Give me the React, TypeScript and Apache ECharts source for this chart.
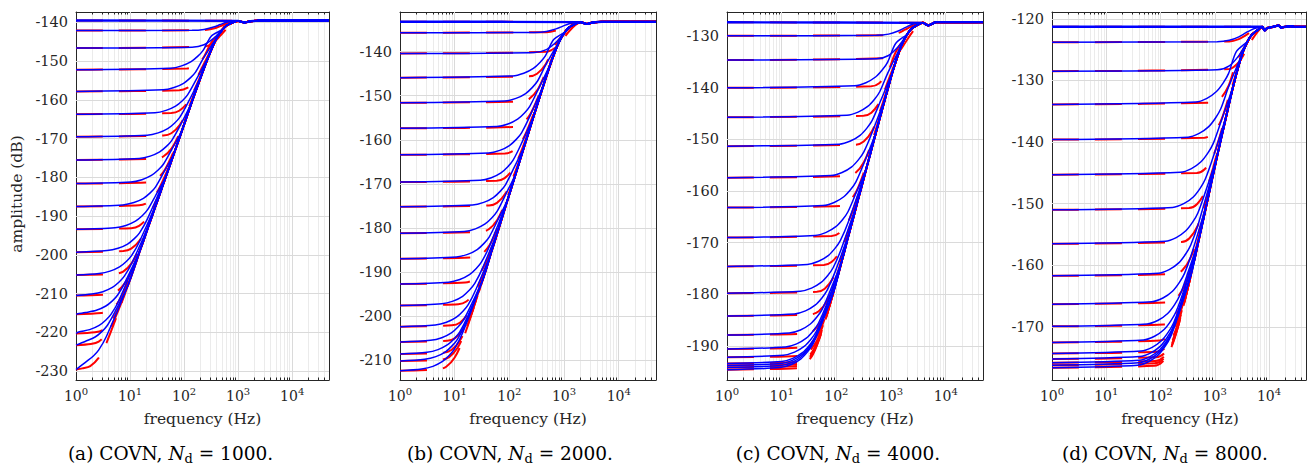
import React, { useEffect, useRef } from "react";
import * as echarts from "echarts";

const SERIF = "'DejaVu Serif', 'Liberation Serif', serif";
const AXIS_COLOR = "#262626";
const F_MIN = 1;
const F_MAX = 48000;

// ---------- (a) N_d = 1000 ----------
const plateauA = -139.5;
const yRangeA = [-232.3, -137.3];
const yTicksA = [-230, -220, -210, -200, -190, -180, -170, -160, -150, -140];
const floorsA = [-139.5, -142.1, -146.6, -152.2, -157.8, -163.7, -169.5, -175.5, -181.6, -187.5, -193.4, -199.3, -205.2, -210.5, -215.3, -220.3, -223.3, -229.6];
const crossA = [468, 403, 311, 225, 163, 116, 83, 58.9, 41.4, 29.5, 21, 15, 10.65, 7.85, 5.95, 4.47, 3.76, 2.62];
const riseA = [[2.34, -231.5], [4.68, -219.5], [9.36, -207.5], [16.4, -197.7], [23.4, -191.5], [32.8, -185.7], [46.8, -179.5], [65.5, -173.7], [93.6, -167.5], [140, -160.4], [211, -153.5], [281, -148.9], [351, -145.7], [421, -143.5], [515, -141.8], [608, -140.8], [796, -140.0]];
const tailA = [[1000, -139.6], [1300, -140.0], [1700, -139.7], [2500, -139.5], [48000, -139.5]];

// ---------- (b) N_d = 2000 ----------
const plateauB = -133.2;
const yRangeB = [-214.5, -131.0];
const yTicksB = [-210, -200, -190, -180, -170, -160, -150, -140];
const floorsB = [-133.2, -135.7, -140.4, -145.9, -151.6, -157.4, -163.4, -169.6, -175.2, -181.2, -187.0, -192.7, -197.6, -202.4, -205.9, -208.6, -210.2, -212.4];
const crossB = [951, 824, 628, 458, 330, 236, 167, 117, 84.8, 60, 43, 31, 23.3, 17.7, 14.5, 12.4, 11.3, 10];
const riseB = [[4.76, -225.2], [9.51, -213.2], [19.0, -201.2], [33.3, -191.4], [47.6, -185.2], [66.6, -179.4], [95.1, -173.2], [133, -167.4], [190, -161.2], [285, -154.2], [428, -147.3], [571, -142.6], [713, -139.4], [856, -137.2], [1046, -135.5], [1236, -134.5], [1617, -133.7]];
const tailB = [[2000, -133.3], [2600, -133.7], [3300, -133.4], [5000, -133.2], [48000, -133.2]];

// ---------- (c) N_d = 4000 ----------
const plateauC = -127.3;
const yRangeC = [-196.6, -125.3];
const yTicksC = [-190, -180, -170, -160, -150, -140, -130];
const floorsC = [-127.3, -129.9, -134.6, -140.0, -145.7, -151.3, -157.4, -163.2, -169.0, -174.6, -179.8, -184.2, -187.9, -190.6, -192.2, -193.4, -193.8, -194.2, -194.6];
const crossC = [1800, 1550, 1183, 867, 624, 452, 318, 228, 163, 118, 87.7, 68, 55, 47, 42.9, 40, 39.1, 38.2, 37.4];
const riseC = [[9, -219.3], [18, -207.3], [36, -195.3], [63, -185.5], [90, -179.3], [126, -173.5], [180, -167.3], [252, -161.5], [360, -155.3], [540, -148.3], [810, -141.4], [1080, -136.7], [1350, -133.5], [1620, -131.3], [1980, -129.6], [2340, -128.6], [3060, -127.8]];
const tailC = [[3800, -127.4], [4800, -127.9], [5600, -127.6], [6500, -127.3], [48000, -127.3]];

// ---------- (d) N_d = 8000 ----------
const plateauD = -121.3;
const yRangeD = [-178.6, -118.9];
const yTicksD = [-170, -160, -150, -140, -130, -120];
const floorsD = [-121.3, -123.8, -128.5, -133.9, -139.6, -145.3, -151.0, -156.5, -161.7, -166.3, -169.9, -172.5, -174.3, -175.2, -175.8, -176.2, -176.6];
const crossD = [3700, 3200, 2445, 1791, 1290, 929, 670, 488, 361, 277, 226, 194, 175, 166, 161, 157, 153];
const riseD = [[37, -201.3], [74, -189.3], [111, -182.2], [130, -179.5], [185, -173.3], [259, -167.5], [370, -161.3], [518, -155.5], [740, -149.3], [1110, -142.2], [1665, -135.4], [2220, -130.7], [2775, -127.5], [3330, -125.3], [4070, -123.6], [4810, -122.6], [6290, -121.8]];
const tailD = [[7500, -121.3], [8300, -121.9], [9300, -121.5], [12000, -121.3], [15000, -121.1], [16500, -121.4], [25000, -121.2], [30000, -121.3], [48000, -121.3]];

// knee shapes: [f / crossing frequency, dB above floor]
const kneeBlue = [[0.25, 0.4], [0.4, 1.0], [0.6, 2.1], [0.8, 3.5], [1.0, 5.0], [1.4, 8.6]];
const kneeRed = [[0.5, 0.3], [0.7, 0.9], [1.0, 3.0], [1.4, 6.9]];
// curves just under the plateau: [f / corner frequency, fraction of the gap to the plateau closed]
const upperBlue = [[0.3, 0.03], [0.5, 0.12], [0.75, 0.35], [1.0, 0.6], [1.3, 0.82], [1.7, 0.95]];
const upperRed = [[0.5, 0.05], [0.75, 0.2], [1.0, 0.45], [1.3, 0.7], [1.7, 0.9]];
const UPPER_GAP_DB = 9;

const captionTags = ["(a)", "(b)", "(c)", "(d)"];
const captionNd = ["1000", "2000", "4000", "8000"];

const panels = [
  { plateau: plateauA, yRange: yRangeA, yTicks: yTicksA, floors: floorsA, cross: crossA, rise: riseA, tail: tailA, left: 76, width: 253, capX: 170.5 },
  { plateau: plateauB, yRange: yRangeB, yTicks: yTicksB, floors: floorsB, cross: crossB, rise: riseB, tail: tailB, left: 400, width: 256, capX: 510 },
  { plateau: plateauC, yRange: yRangeC, yTicks: yTicksC, floors: floorsC, cross: crossC, rise: riseC, tail: tailC, left: 727, width: 256, capX: 838 },
  { plateau: plateauD, yRange: yRangeD, yTicks: yTicksD, floors: floorsD, cross: crossD, rise: riseD, tail: tailD, left: 1052, width: 256, capX: 1165 },
];

const GRID_TOP = 12;
const GRID_H = 368;

function buildCurve(
  floor: number, cross: number, corner: number, plateau: number,
  knee: number[][], upper: number[][], joinFactor: number,
  rise: number[][], tail: number[][]
) {
  const pts: number[][] = [[F_MIN, floor]];
  const gap = plateau - floor;
  if (gap > 0 && gap < UPPER_GAP_DB) {
    for (const [r, frac] of upper) pts.push([corner * r, floor + frac * gap]);
  } else if (gap >= UPPER_GAP_DB) {
    for (const [r, h] of knee) {
      const f = cross * r;
      const v = floor + h;
      if (f <= 1.05) continue;
      if (v > plateau - 1) break;
      pts.push([f, v]);
    }
    let last = pts[pts.length - 1];
    for (const p of rise) {
      if (p[0] >= cross * joinFactor && p[0] > last[0] && p[1] > last[1]) {
        pts.push(p);
        last = p;
      }
    }
  }
  const lastF = pts[pts.length - 1][0];
  for (const p of tail) {
    if (p[0] > lastF) pts.push(p);
  }
  return pts;
}

export default function App() {
  const ref = useRef<HTMLDivElement>(null);
  useEffect(() => {
    document.body.style.margin = "0";
    if (!ref.current) return;
    const chart = echarts.init(ref.current, null, { renderer: "svg" });

    const grid: any[] = [];
    const xAxis: any[] = [];
    const yAxis: any[] = [];
    const series: any[] = [];
    const graphic: any[] = [];

    panels.forEach((p, i) => {
      grid.push({ left: p.left, top: GRID_TOP, width: p.width, height: GRID_H, containLabel: false });
      const [ymin, ymax] = p.yRange;
      const corner = p.cross[0];
      const axLine = { show: true, onZero: false, lineStyle: { color: AXIS_COLOR, width: 1 } };
      xAxis.push({
        type: "log", logBase: 10, gridIndex: i, min: F_MIN, max: F_MAX, position: "bottom",
        axisLine: axLine,
        axisTick: { show: true, inside: true, length: 4, lineStyle: { color: AXIS_COLOR } },
        axisLabel: {
          show: true, margin: 6,
          formatter: (v: number) => {
            const e = Math.log10(v);
            if (Math.abs(e - Math.round(e)) > 1e-6) return "";
            return `{b|10}{s|${Math.round(e)}}`;
          },
          rich: {
            b: { fontFamily: SERIF, fontSize: 14, color: AXIS_COLOR },
            s: { fontFamily: SERIF, fontSize: 10, color: AXIS_COLOR, padding: [0, 0, 10, 0] },
          },
        },
        splitLine: { show: false },
      });
      xAxis.push({
        type: "log", logBase: 10, gridIndex: i, min: F_MIN, max: F_MAX, position: "top",
        axisLine: axLine,
        axisTick: { show: true, inside: true, length: 4, lineStyle: { color: AXIS_COLOR } },
        axisLabel: { show: false },
        splitLine: { show: false },
      });
      yAxis.push({
        type: "value", gridIndex: i, min: ymin, max: ymax, position: "left",
        axisLine: axLine,
        axisTick: { show: true, inside: true, length: 4, customValues: p.yTicks, lineStyle: { color: AXIS_COLOR } },
        axisLabel: { show: true, customValues: p.yTicks, margin: 8, fontFamily: SERIF, fontSize: 14.5, color: AXIS_COLOR },
        splitLine: { show: false },
      });
      yAxis.push({
        type: "value", gridIndex: i, min: ymin, max: ymax, position: "right",
        axisLine: axLine,
        axisTick: { show: true, inside: true, length: 4, customValues: p.yTicks, lineStyle: { color: AXIS_COLOR } },
        axisLabel: { show: false },
        splitLine: { show: false },
      });

      // grid lines and minor ticks
      const mlData: any[] = [];
      const tl = (2.5 * (ymax - ymin)) / GRID_H;
      for (let n = 0; n <= 4; n++) {
        for (let k = 1; k <= 9; k++) {
          const f = k * Math.pow(10, n);
          if (f <= F_MIN || f >= F_MAX) continue;
          mlData.push({ xAxis: f, lineStyle: { color: k === 1 ? "#dadada" : "#ebebeb", width: 1, type: "solid" } });
          if (k !== 1) {
            mlData.push([{ coord: [f, ymin], lineStyle: { color: AXIS_COLOR, width: 1, type: "solid" } }, { coord: [f, ymin + tl] }]);
            mlData.push([{ coord: [f, ymax], lineStyle: { color: AXIS_COLOR, width: 1, type: "solid" } }, { coord: [f, ymax - tl] }]);
          }
        }
      }
      p.yTicks.forEach((v) => mlData.push({ yAxis: v, lineStyle: { color: "#dadada", width: 1, type: "solid" } }));
      series.push({
        type: "line", xAxisIndex: 2 * i, yAxisIndex: 2 * i, data: [], silent: true, z: 1,
        markLine: {
          silent: true, z: 1, symbol: ["none", "none"], animation: false,
          label: { show: false }, emphasis: { disabled: true },
          lineStyle: { type: "solid", width: 1 },
          data: mlData,
        },
      });

      p.floors.forEach((F, k) => {
        series.push({
          type: "line", xAxisIndex: 2 * i, yAxisIndex: 2 * i,
          data: buildCurve(F, p.cross[k], corner, p.plateau, kneeRed, upperRed, 2.0, p.rise, p.tail),
          smooth: 0.3, showSymbol: false, symbol: "none", silent: true, z: 10,
          lineStyle: { color: "#ff0000", width: 2.0, type: [27, 16] },
        });
      });
      p.floors.forEach((F, k) => {
        series.push({
          type: "line", xAxisIndex: 2 * i, yAxisIndex: 2 * i,
          data: buildCurve(F, p.cross[k], corner, p.plateau, kneeBlue, upperBlue, 2.2, p.rise, p.tail),
          smooth: 0.3, showSymbol: false, symbol: "none", silent: true, z: 11,
          lineStyle: { color: "#0000ff", width: k === 0 ? 2.4 : 1.5 },
        });
      });

      graphic.push({
        type: "text", x: p.left + p.width / 2, y: 419, silent: true,
        style: { text: "frequency (Hz)", fontFamily: SERIF, fontSize: 15.5, fill: AXIS_COLOR, align: "center", verticalAlign: "middle" },
      });
      graphic.push({
        type: "text", x: p.capX, y: 453, silent: true,
        style: {
          text: `{m|${captionTags[i]} COVN, }{i|N}{s|d}{m| = ${captionNd[i]}.}`,
          fontFamily: SERIF, fontSize: 18.5, fill: "#000", align: "center", verticalAlign: "middle",
          rich: {
            m: { fontFamily: SERIF, fontSize: 18.5, fill: "#000" },
            i: { fontFamily: SERIF, fontSize: 18.5, fontStyle: "italic", fill: "#000" },
            s: { fontFamily: SERIF, fontSize: 13, fill: "#000", padding: [10, 0, 0, 0] },
          },
        },
      });
    });

    graphic.push({
      type: "text", x: 17, y: 194, rotation: Math.PI / 2, silent: true,
      style: { text: "amplitude (dB)", fontFamily: SERIF, fontSize: 15.5, fill: AXIS_COLOR, align: "center", verticalAlign: "middle" },
    });

    chart.setOption({
      animation: false,
      backgroundColor: "#ffffff",
      grid, xAxis, yAxis, series, graphic,
    });
    return () => chart.dispose();
  }, []);

  return (
    <div
      ref={ref}
      style={{ position: "fixed", left: 0, top: 0, width: "1309px", height: "464px", background: "#fff" }}
    />
  );
}
